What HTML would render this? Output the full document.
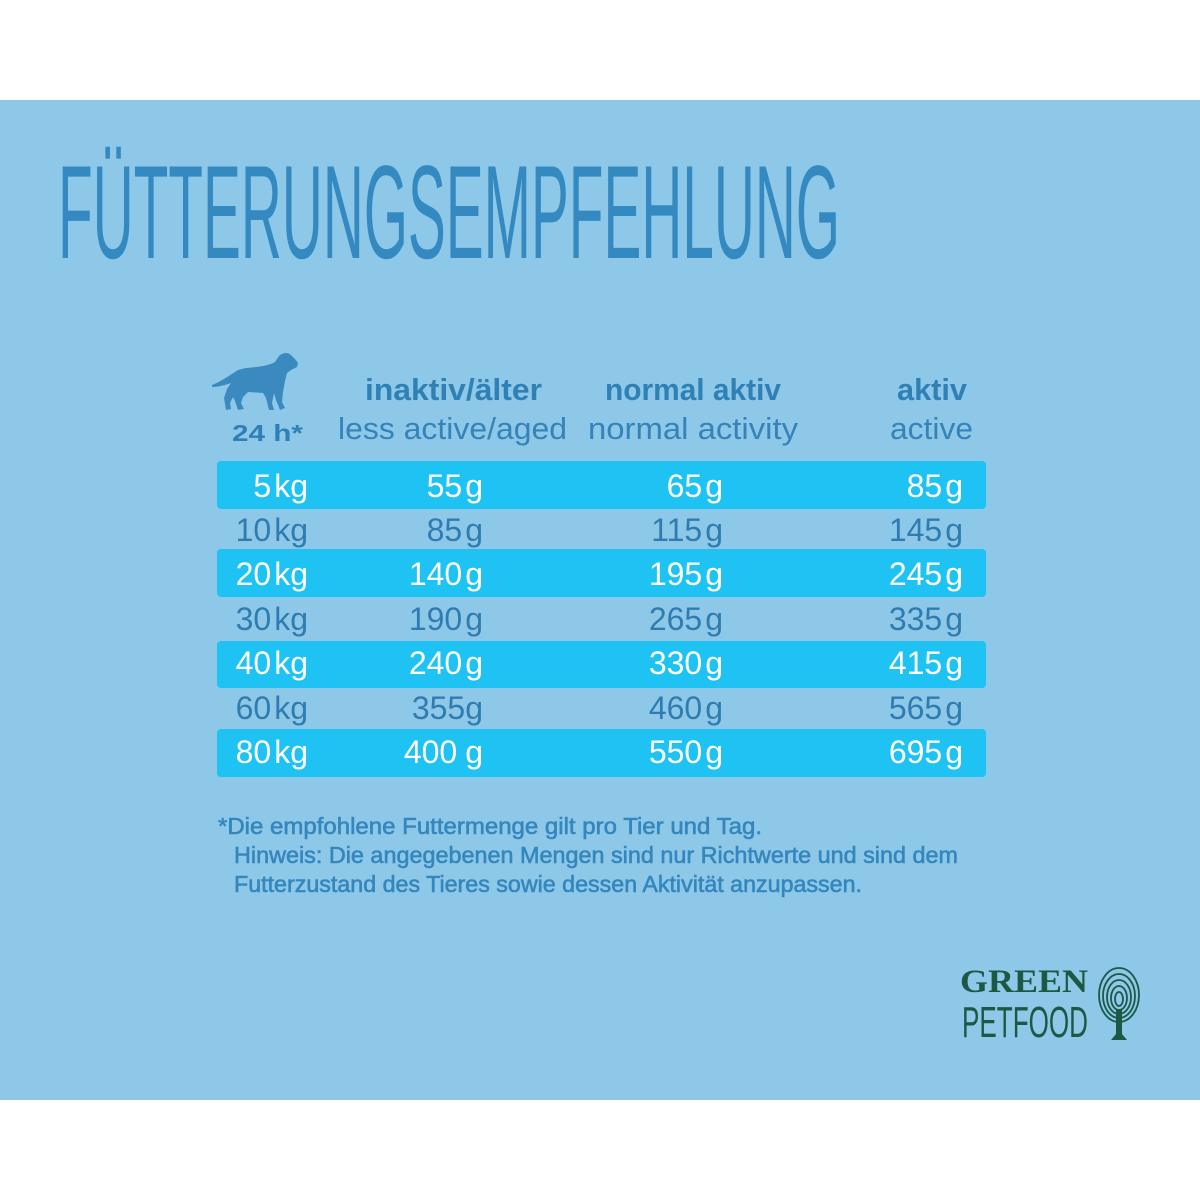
<!DOCTYPE html>
<html>
<head>
<meta charset="utf-8">
<style>
html,body{margin:0;padding:0;background:#fff;}
svg{display:block;}
text{font-family:"Liberation Sans",sans-serif;}
</style>
</head>
<body>
<svg width="1200" height="1200" viewBox="0 0 1200 1200" xmlns="http://www.w3.org/2000/svg">
  <rect x="0" y="0" width="1200" height="1200" fill="#ffffff"/>
  <rect x="0" y="100" width="1200" height="1000" fill="#8ec8e8"/>

  <!-- Title -->
  <text x="58" y="258" font-size="133" fill="#3489c0" stroke="#8ec8e8" stroke-width="1.2" paint-order="stroke" textLength="782" lengthAdjust="spacingAndGlyphs">FÜTTERUNGSEMPFEHLUNG</text>

  <!-- Dog -->
  <path fill="#3a8abf" d="M212,385 C222,381 230,375 238,370 L246,368 C258,367 268,366 275,362 L279,356 C283,352 289,352 292,356 L295,359 L298,363 L297,367 L291,370 L287,373 L285,381 L283,392 L282,402 L285,408 L280,410 L276,400 L274,393 L272,403 L274,410 L269,410 L266,398 L263,393 L248,392 L243,397 L241,403 L244,409 L238,410 L235,401 L233,397 L230,403 L231,409 L226,410 L224,398 L227,389 L231,383 C225,385 219,387 212,387 Z"/>
  <text x="232" y="441" font-size="23" font-weight="bold" fill="#2f80b6" textLength="71" lengthAdjust="spacingAndGlyphs">24 h*</text>

  <!-- Headers -->
  <g fill="#2e80b5" font-weight="bold" font-size="31">
    <text x="365" y="400" textLength="177" lengthAdjust="spacingAndGlyphs">inaktiv/älter</text>
    <text x="605" y="400" textLength="176" lengthAdjust="spacingAndGlyphs">normal aktiv</text>
    <text x="897" y="400" textLength="70" lengthAdjust="spacingAndGlyphs">aktiv</text>
  </g>
  <g fill="#3583b8" font-size="31">
    <text x="338" y="439" textLength="229" lengthAdjust="spacingAndGlyphs">less active/aged</text>
    <text x="588" y="439" textLength="210" lengthAdjust="spacingAndGlyphs">normal activity</text>
    <text x="890" y="439" textLength="83" lengthAdjust="spacingAndGlyphs">active</text>
  </g>

  <!-- Bands -->
  <g fill="#1ec3f3">
    <rect x="217" y="461" width="769" height="48" rx="4"/>
    <rect x="217" y="549" width="769" height="48" rx="4"/>
    <rect x="217" y="641" width="769" height="47" rx="4"/>
    <rect x="217" y="729" width="769" height="48" rx="4"/>
  </g>

  <!-- Rows -->
  <g font-size="32" text-anchor="end">
    <g fill="#ffffff">
      <text x="308" y="497">5<tspan dx="3">kg</tspan></text>
      <text x="483" y="497">55<tspan dx="3">g</tspan></text>
      <text x="723" y="497">65<tspan dx="3">g</tspan></text>
      <text x="963" y="497">85<tspan dx="3">g</tspan></text>

      <text x="308" y="585">20<tspan dx="3">kg</tspan></text>
      <text x="483" y="585">140<tspan dx="3">g</tspan></text>
      <text x="723" y="585">195<tspan dx="3">g</tspan></text>
      <text x="963" y="585">245<tspan dx="3">g</tspan></text>

      <text x="308" y="674">40<tspan dx="3">kg</tspan></text>
      <text x="483" y="674">240<tspan dx="3">g</tspan></text>
      <text x="723" y="674">330<tspan dx="3">g</tspan></text>
      <text x="963" y="674">415<tspan dx="3">g</tspan></text>

      <text x="308" y="763">80<tspan dx="3">kg</tspan></text>
      <text x="483" y="763">400<tspan dx="8">g</tspan></text>
      <text x="723" y="763">550<tspan dx="3">g</tspan></text>
      <text x="963" y="763">695<tspan dx="3">g</tspan></text>
    </g>
    <g fill="#2f7cb1">
      <text x="308" y="541">10<tspan dx="3">kg</tspan></text>
      <text x="483" y="541">85<tspan dx="3">g</tspan></text>
      <text x="723" y="541">115<tspan dx="3">g</tspan></text>
      <text x="963" y="541">145<tspan dx="3">g</tspan></text>

      <text x="308" y="630">30<tspan dx="3">kg</tspan></text>
      <text x="483" y="630">190<tspan dx="3">g</tspan></text>
      <text x="723" y="630">265<tspan dx="3">g</tspan></text>
      <text x="963" y="630">335<tspan dx="3">g</tspan></text>

      <text x="308" y="719">60<tspan dx="3">kg</tspan></text>
      <text x="483" y="719">355<tspan dx="0">g</tspan></text>
      <text x="723" y="719">460<tspan dx="3">g</tspan></text>
      <text x="963" y="719">565<tspan dx="3">g</tspan></text>
    </g>
  </g>

  <!-- Footnote -->
  <g fill="#3487bd" stroke="#3487bd" stroke-width="0.6" font-size="23">
    <text x="218" y="834" textLength="544" lengthAdjust="spacingAndGlyphs">*Die empfohlene Futtermenge gilt pro Tier und Tag.</text>
    <text x="234" y="863" textLength="724" lengthAdjust="spacingAndGlyphs">Hinweis: Die angegebenen Mengen sind nur Richtwerte und sind dem</text>
    <text x="234" y="892" textLength="628" lengthAdjust="spacingAndGlyphs">Futterzustand des Tieres sowie dessen Aktivität anzupassen.</text>
  </g>

  <!-- Logo -->
  <g fill="#1d5845">
    <text x="960" y="992" font-weight="bold" font-size="33" textLength="128" lengthAdjust="spacingAndGlyphs" style="font-family:'Liberation Serif',serif">GREEN</text>
    <text x="962" y="1037" font-size="44" textLength="126" lengthAdjust="spacingAndGlyphs">PETFOOD</text>
  </g>
  <g fill="none" stroke="#1d5845" stroke-width="1.8">
    <ellipse cx="1119" cy="995" rx="20" ry="27"/>
    <ellipse cx="1119" cy="996" rx="16" ry="22"/>
    <ellipse cx="1119" cy="997" rx="12" ry="17"/>
    <ellipse cx="1119" cy="998" rx="8" ry="12"/>
    <ellipse cx="1119" cy="999" rx="4" ry="7"/>
  </g>
  <path fill="#1d5845" d="M1116,1010 L1122,1010 L1122,1034 L1127,1040 L1111,1040 L1116,1034 Z"/>
</svg>
</body>
</html>
